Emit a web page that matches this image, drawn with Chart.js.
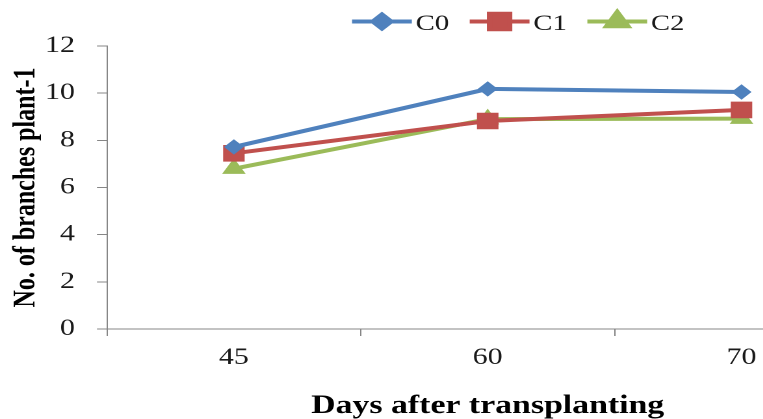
<!DOCTYPE html>
<html>
<head>
<meta charset="utf-8">
<script src="https://cdn.jsdelivr.net/npm/chart.js@4/dist/chart.umd.min.js"></script>
<style>
  html, body { margin: 0; padding: 0; background: #fff; }
  #frame { position: relative; width: 763px; height: 419px; overflow: hidden; background: #fff; }
  /* the chart is drawn in narrower units and widened horizontally */
  #stage { position: absolute; left: 0; top: 0; width: 680px; height: 419px; transform: scaleX(1.3); transform-origin: 0 0; }
</style>
</head>
<body>
<div id="frame"><div id="stage"><canvas id="chart" width="680" height="419"></canvas></div></div>
<script>
// Days after transplanting
const days = ['45', '60', '70'];
// Number of branches per plant for each treatment
const c0 = [7.72, 10.18, 10.05];
const c1 = [7.45, 8.82, 9.29];
const c2 = [6.8, 8.9, 8.92];
// Y axis tick values
const yTickValues = [0, 2, 4, 6, 8, 10, 12];

const SERIF = "'Liberation Serif', 'Times New Roman', serif";
const AXIS = '#868686';
const TEXT = '#1a1a1a';

const series = [
  { label: 'C0', data: c0, color: '#4F81BD', style: 'rectRot', radius: 7 },
  { label: 'C1', data: c1, color: '#C0504D', style: 'rect', radius: 11 },
  { label: 'C2', data: c2, color: '#9BBB59', style: 'triangle', radius: 9.5 }
];

// Legend row drawn above the plot: line segment with its marker, then the name
const lineLegend = {
  id: 'lineLegend',
  afterDraw(chart) {
    const ctx = chart.ctx;
    const startX = 270.8, stride = 90.5, lineLen = 46, lineY = 21.5, textY = 30;
    ctx.save();
    chart.data.datasets.forEach((ds, i) => {
      const x0 = startX + i * stride;
      ctx.strokeStyle = ds.borderColor;
      ctx.lineWidth = ds.borderWidth;
      ctx.beginPath();
      ctx.moveTo(x0, lineY);
      ctx.lineTo(x0 + lineLen, lineY);
      ctx.stroke();
      ctx.fillStyle = ds.pointBackgroundColor;
      ctx.strokeStyle = ds.pointBorderColor;
      Chart.helpers.drawPoint(ctx, {
        pointStyle: ds.pointStyle, radius: ds.pointRadius, rotation: 0, borderWidth: 1
      }, x0 + lineLen / 2, lineY);
      ctx.fillStyle = TEXT;
      ctx.font = '22px ' + SERIF;
      ctx.textBaseline = 'alphabetic';
      ctx.textAlign = 'left';
      ctx.fillText(ds.label, x0 + lineLen + 3, textY);
    });
    ctx.restore();
  }
};

new Chart(document.getElementById('chart'), {
  type: 'line',
  data: {
    labels: days,
    datasets: series.map(s => ({
      label: s.label,
      data: s.data,
      borderColor: s.color,
      backgroundColor: s.color,
      borderWidth: 4,
      tension: 0,
      pointStyle: s.style,
      pointRadius: s.radius,
      pointHoverRadius: s.radius,
      pointBackgroundColor: s.color,
      pointBorderColor: s.color,
      pointBorderWidth: 1
    }))
  },
  options: {
    responsive: false,
    animation: false,
    devicePixelRatio: 2,
    layout: { padding: { top: 46, left: 0, right: 9.2, bottom: 0 } },
    plugins: { legend: { display: false }, tooltip: { enabled: false } },
    scales: {
      x: {
        offset: true,
        grid: { offset: true, drawOnChartArea: false, tickLength: 7, color: AXIS, lineWidth: 1 },
        border: { color: AXIS, width: 1 },
        ticks: { color: TEXT, padding: 8, font: { family: SERIF, size: 23 } },
        title: {
          display: true, text: 'Days after transplanting', color: '#000',
          font: { family: SERIF, size: 26, weight: 'bold' },
          padding: { top: 4, bottom: -3 }
        },
        afterFit(scale) { scale.height = 90; }
      },
      y: {
        min: 0, max: 12,
        afterBuildTicks(scale) { scale.ticks = yTickValues.map(v => ({ value: v })); },
        grid: { drawOnChartArea: false, tickLength: 7.7, color: AXIS, lineWidth: 1 },
        border: { color: AXIS, width: 1 },
        ticks: { color: TEXT, padding: 17, font: { family: SERIF, size: 23 } },
        title: {
          display: true, text: 'No. of branches plant-1', color: '#000',
          font: { family: SERIF, size: 24, weight: 'bold' },
          padding: { top: 6, bottom: 0 }
        },
        afterFit(scale) { scale.width = 82.3; }
      }
    }
  },
  plugins: [lineLegend]
});
</script>
</body>
</html>
